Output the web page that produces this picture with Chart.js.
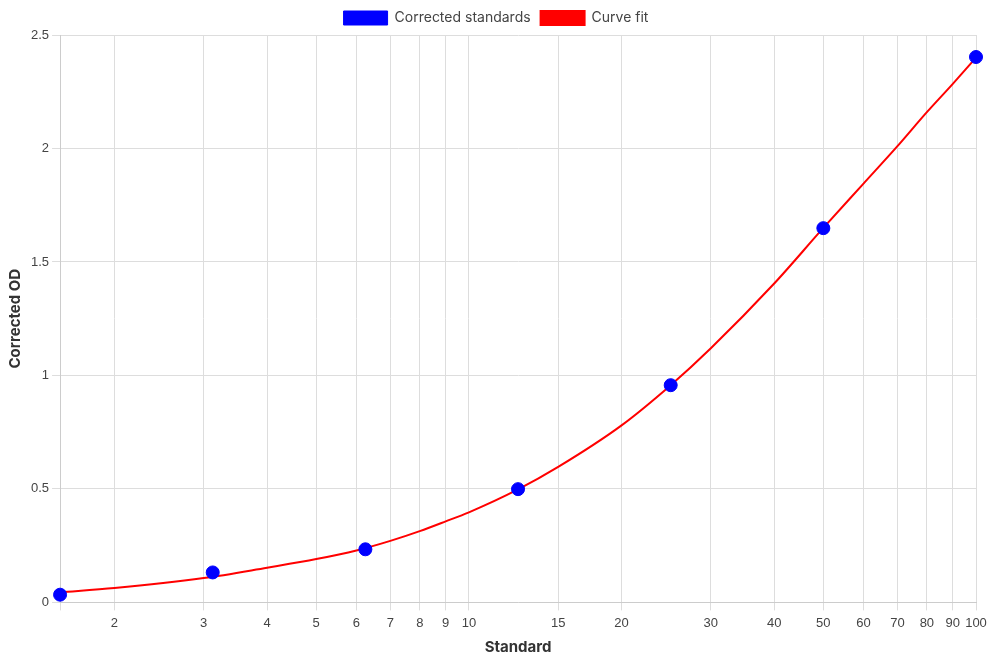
<!DOCTYPE html>
<html>
<head>
<meta charset="utf-8">
<script src="https://cdn.jsdelivr.net/npm/chart.js@4/dist/chart.umd.min.js"></script>
<style>
  html, body { margin: 0; padding: 0; background: #fff; }
  #wrap { width: 990px; height: 660px; }
</style>
</head>
<body>
<div id="wrap"><canvas id="c"></canvas></div>
<script>
// Standards (x) and corrected OD (y)
const standardX = [1.5625, 3.125, 6.25, 12.5, 25, 50, 100];
const correctedOD = [0.034, 0.132, 0.234, 0.499, 0.957, 1.649, 2.403];

// Curve fit at these x positions
const fitX = [1.5625, 2, 3, 4, 5, 6, 7, 8, 9, 10, 12.5, 15, 20, 25, 30, 40, 50, 60, 70, 80, 90, 100];
const fitY = [0.045, 0.063, 0.107, 0.153, 0.191, 0.229, 0.271, 0.314, 0.357, 0.397, 0.498, 0.597, 0.780, 0.957, 1.120, 1.405, 1.650, 1.845, 2.010, 2.160, 2.285, 2.400];

// X axis tick values (first one unlabeled)
const xTickValues = [1.5625, 2, 3, 4, 5, 6, 7, 8, 9, 10, 15, 20, 30, 40, 50, 60, 70, 80, 90, 100];
const xTickLabels = ['', '2', '3', '4', '5', '6', '7', '8', '9', '10', '15', '20', '30', '40', '50', '60', '70', '80', '90', '100'];
const yTickValues = [0, 0.5, 1, 1.5, 2, 2.5];

const titleFont = "Inter, 'Open Sans', sans-serif";
const tickFont = "'Liberation Sans', Arial, sans-serif";

new Chart(document.getElementById('c'), {
  data: {
    datasets: [
      {
        type: 'scatter',
        label: 'Corrected standards',
        data: standardX.map((x, i) => ({ x: x, y: correctedOD[i] })),
        backgroundColor: '#0000ff',
        borderColor: '#0000ff',
        pointRadius: 6.5,
        pointHoverRadius: 6.5,
        clip: false,
        order: 0
      },
      {
        type: 'line',
        label: 'Curve fit',
        data: fitX.map((x, i) => ({ x: x, y: fitY[i] })),
        backgroundColor: '#ff0000',
        borderColor: '#ff0000',
        borderWidth: 2,
        pointRadius: 0,
        cubicInterpolationMode: 'monotone',
        fill: false,
        order: 1
      }
    ]
  },
  options: {
    responsive: true,
    maintainAspectRatio: false,
    animation: false,
    layout: { padding: { left: 2, right: 0, top: 1, bottom: 0 } },
    plugins: {
      legend: {
        position: 'top',
        labels: {
          boxWidth: 44,
          boxHeight: 14,
          padding: 10,
          color: '#444',
          font: { family: titleFont, size: 14 }
        }
      },
      tooltip: { enabled: false }
    },
    scales: {
      x: {
        type: 'logarithmic',
        min: 1.5625,
        max: 100,
        afterBuildTicks: (axis) => {
          axis.ticks = xTickValues.map(v => ({ value: v }));
        },
        afterFit: (axis) => { axis.paddingRight = 14; },
        ticks: {
          autoSkip: false,
          maxRotation: 0,
          padding: 5,
          color: '#444',
          font: { family: tickFont, size: 13 },
          callback: function (value, index) { return xTickLabels[index]; }
        },
        grid: { color: '#dddddd', tickLength: 8 },
        border: { color: '#cccccc' },
        title: {
          display: true,
          text: 'Standard',
          color: '#333',
          padding: { top: 2, bottom: 4 },
          font: { family: titleFont, size: 15, weight: 'bold' }
        }
      },
      y: {
        type: 'linear',
        min: 0,
        max: 2.5,
        afterBuildTicks: (axis) => {
          axis.ticks = yTickValues.map(v => ({ value: v }));
        },
        ticks: {
          color: '#444',
          font: { family: tickFont, size: 13 },
          callback: (v) => String(v)
        },
        grid: { color: '#dddddd', tickLength: 8 },
        border: { color: '#cccccc' },
        title: {
          display: true,
          text: 'Corrected OD',
          color: '#333',
          font: { family: titleFont, size: 15, weight: 'bold' }
        }
      }
    }
  }
});
</script>
</body>
</html>
